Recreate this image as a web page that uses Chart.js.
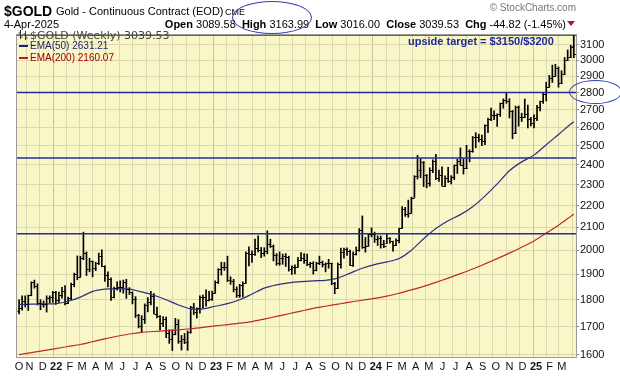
<!DOCTYPE html>
<html>
<head>
<meta charset="utf-8">
<script src="https://cdn.jsdelivr.net/npm/chart.js@4.4.1/dist/chart.umd.min.js"></script>
<style>
  body { margin: 0; background: #fff; }
  #wrap { position: relative; width: 620px; height: 376px; overflow: hidden; font-family: "Liberation Sans", Arial, sans-serif; color: #000; }
  canvas { position: absolute; left: 0; top: 0; }
  .t { position: absolute; white-space: nowrap; line-height: 1; }
  .ell { position: absolute; border: 1.5px solid #3343b0; border-radius: 50%; box-sizing: border-box; }
</style>
</head>
<body>
<div id="wrap">
  <canvas id="chart" width="620" height="376"></canvas>

  <div class="t" style="left:4px;top:4px;font-size:14px;font-weight:bold">$GOLD</div>
  <div class="t" style="left:56px;top:6px;font-size:11px">Gold - Continuous Contract (EOD)</div>
  <div class="t" style="left:225px;top:8px;font-size:9px">CME</div>
  <div class="t" style="right:44px;top:3px;font-size:10px;color:#777">© StockCharts.com</div>
  <div class="t" style="left:4px;top:19px;font-size:11px">4-Apr-2025</div>
  <div class="t" style="right:54px;top:19px;font-size:11px"><b>Open</b> 3089.58 &nbsp;<b>High</b> 3163.99 &nbsp;<b>Low</b> 3016.00 &nbsp;<b>Close</b> 3039.53 &nbsp;<b>Chg</b> -44.82 (-1.45%)</div>
  <div style="position:absolute;left:567px;top:21px;width:0;height:0;border-left:4px solid transparent;border-right:4px solid transparent;border-top:5px solid #b0103a"></div>

  <svg style="position:absolute;left:18px;top:30px" width="11" height="10">
    <path d="M2.5 0V9M0.5 3H2.5M2.5 7H4.5M7.5 1V10M5.5 4H7.5M7.5 8H9.5" stroke="#333" stroke-width="1" fill="none"/>
  </svg>
  <div class="t" style="left:30px;top:30px;font-size:11px;font-family:'DejaVu Sans';color:#444">$GOLD (Weekly) 3039.53</div>
  <div class="t" style="left:30px;top:41px;font-size:10px;color:#1c1c70">EMA(50) 2631.21</div>
  <div style="position:absolute;left:19px;top:45px;width:9px;height:2px;background:#1c1c70"></div>
  <div class="t" style="left:30px;top:53px;font-size:10px;color:#a00000">EMA(200) 2160.07</div>
  <div style="position:absolute;left:19px;top:57px;width:9px;height:2px;background:#c01818"></div>

  <div class="t" style="left:408px;top:36px;font-size:11px;font-weight:bold;color:#1d2b9f">upside target = $3150/$3200</div>

  <div class="ell" style="left:232px;top:1px;width:80px;height:33px"></div>
  <div class="ell" style="left:569px;top:80px;width:53px;height:24px"></div>
</div>

<script>
// weekly bars, Fri 15-Oct-2021 .. Fri 4-Apr-2025
const opens = [
  1757,1768,1796,1783,1818,1868,1852,1788,1784,1783,1805,1811,
  1829,1797,1818,1833, 1786,1808,1860,1900, 1889,1969,1987,1922, 1954,1924,1946,1975,1934,
  1897,1883,1811,1844, 1851,1850,1871,1840, 1828,1801,1742,1703,1727, 1781,1791,1815,1747,
  1738,1712,1728,1675,1655, 1672,1709,1648,1656, 1645,1681,1771,1754, 1768,1809,1810,1800,1804,
  1826,1869,1920,1928, 1929,1876,1874,1842, 1817,1856,1867,1989,1983, 1986,2011,2003,1990,
  1999,2025,2019,1981, 1946,1969,1977,1971,1920, 1929,1932,1960,1966, 1960,1942,1946,1918,
  1946,1952,1942,1945,1945, 1866,1845,1941,1994, 2006,1999,1937,1984, 2003,2089,2014,2019,2069,
  2072,2049,2051,2029, 2033,2053,2038,2024, 2046,2096,2186,2161,2166, 2238,2345,2374,2413,
  2349,2309,2375,2419,2334, 2348,2294,2331,2317, 2339,2398,2421,2399, 2386,2470,2472,2546,2546,
  2535,2524,2610,2646, 2668,2667,2676,2736, 2755,2749,2694,2570,2716, 2657,2658,2676,2645,
  2621,2654,2716,2748,2791, 2835,2886,2900,2953, 2857,2914,3001,3022, 3089.58
];
const highs = [
  1800,1815,1815,1818,1870,1877,1862,1800,1795,1815,1815,1832,
  1832,1830,1848,1855, 1810,1865,1905,1976, 1975,2079,1993,1966, 1955,1950,1988,2002,1935,
  1910,1886,1849,1870, 1874,1877,1880,1847, 1830,1812,1745,1740,1784, 1808,1832,1824,1772,
  1740,1736,1735,1688,1688, 1730,1725,1668,1675, 1684,1775,1786,1769, 1815,1818,1838,1832,1833,
  1874,1923,1950,1949, 1975,1890,1880,1850, 1860,1870,1993,2015,1998, 2048,2063,2012,2011,
  2085,2048,2023,1986, 1993,1984,1986,1975,1935, 1939,1970,1990,1986, 1984,1950,1952,1950,
  1975,1955,1947,1962,1946, 1868,1947,2010,2009, 2011,2001,1994,2014, 2095,2152,2055,2071,2098,
  2079,2063,2062,2043, 2071,2055,2040,2050, 2097,2195,2192,2226,2240, 2345,2449,2431,2417,
  2351,2385,2426,2454,2373, 2390,2344,2387,2345, 2399,2428,2488,2431, 2502,2478,2549,2570,2562,
  2557,2613,2651,2709, 2693,2676,2738,2762, 2801,2763,2695,2720,2721, 2679,2761,2726,2655,
  2670,2725,2749,2799,2862, 2904,2968,2974,2957, 2933,3017,3066,3097, 3163.99
];
const lows = [
  1746,1760,1772,1759,1815,1845,1780,1762,1771,1753,1788,1790,
  1782,1790,1806,1780, 1785,1800,1850,1878, 1889,1960,1895,1910, 1890,1915,1940,1931,1872,
  1850,1797,1807,1837, 1830,1825,1805,1820, 1784,1733,1695,1680,1711, 1754,1780,1746,1731,
  1688,1699,1660,1640,1615, 1670,1640,1617,1639, 1616,1676,1744,1731, 1749,1769,1775,1795,1797,
  1826,1863,1897,1916, 1871,1860,1830,1809, 1809,1811,1867,1934,1949, 1978,1993,1969,1975,
  1985,2012,1955,1937, 1937,1941,1932,1913,1900, 1902,1930,1955,1945, 1935,1928,1901,1914,
  1940,1930,1910,1925,1858, 1823,1843,1925,1967, 1978,1936,1932,1980, 1996,2008,1992,2017,2058,
  2034,2021,2009,2011, 2030,2031,1996,2020, 2032,2096,2150,2146,2165, 2238,2328,2335,2291,
  2285,2293,2360,2325,2316, 2293,2291,2311,2304, 2325,2356,2398,2353, 2380,2415,2465,2488,2520,
  2500,2505,2570,2637, 2642,2605,2661,2708, 2736,2652,2537,2568,2606, 2632,2656,2597,2608,
  2596,2637,2692,2735,2750, 2832,2861,2898,2832, 2855,2912,2999,3016, 3016.00
];
const closes = [
  1768,1796,1783,1818,1868,1852,1788,1784,1783,1805,1811,1829,
  1797,1818,1833,1786, 1808,1860,1900,1889, 1969,1987,1922,1954, 1924,1946,1975,1934,1897,
  1883,1811,1844,1851, 1850,1871,1840,1828, 1801,1742,1703,1727,1781, 1791,1815,1747,1738,
  1712,1728,1675,1655,1672, 1709,1648,1656,1645, 1681,1771,1754,1768, 1809,1810,1800,1804,1826,
  1869,1920,1928,1929, 1876,1874,1842,1817, 1856,1867,1989,1983,1986, 2011,2003,1990,1999,
  2025,2019,1981,1946, 1969,1977,1971,1920,1929, 1932,1960,1966,1960, 1942,1946,1918,1946,
  1952,1942,1945,1945,1866, 1845,1941,1994,2006, 1999,1937,1984,2003, 2089,2014,2019,2069,2072,
  2049,2051,2029,2018, 2053,2038,2024,2046, 2096,2186,2161,2166,2238, 2345,2374,2413,2349,
  2309,2375,2419,2334,2348, 2294,2331,2317,2339, 2398,2421,2399,2386, 2470,2472,2546,2546,2535,
  2524,2610,2646,2668, 2667,2676,2736,2755, 2749,2694,2570,2716,2657, 2658,2676,2645,2621,
  2654,2716,2748,2791,2835, 2886,2900,2953,2857, 2914,3001,3022,3086, 3039.53
];

// moving averages read every 4th week (plus the last one)
const emaWeeks = [0,4,8,12,16,20,24,28,32,36,40,44,48,52,56,60,64,68,72,76,80,84,88,92,
  96,100,104,108,112,116,120,124,128,132,136,140,144,148,152,156,160,164,168,172,176,180,181];
const ema50 = [1782,1783,1784,1785,1794,1810,1832,1841,1843,1841,1830,1817,1800,1780,1765,1765,
  1775,1785,1800,1822,1845,1858,1866,1871,1874,1876,1885,1905,1925,1940,1951,1965,2000,2050,
  2095,2130,2158,2195,2245,2304,2370,2415,2450,2505,2560,2618,2631];
const ema200 = [1601,1608,1615,1622,1629,1636,1646,1656,1665,1673,1679,1682,1685,1688,1692,1697,
  1702,1707,1712,1718,1727,1737,1747,1757,1767,1775,1783,1791,1798,1805,1814,1825,1838,1852,
  1868,1885,1903,1922,1943,1965,1988,2013,2040,2075,2110,2150,2160];

// drawn support / target levels
const levels = [2072, 2435, 2800, 3166];
const yTicks = [1600,1700,1800,1900,2000,2100,2200,2300,2400,2500,2600,2700,2800,2900,3000,3100];

const DAY = 86400000;
const dayZero = Date.UTC(2022, 0, 1);
const toDay = t => Math.round((t - dayZero) / DAY);
const firstBar = toDay(Date.UTC(2021, 9, 15));
const weekDays = opens.map((_, i) => firstBar + 7 * i);
const xMin = -85, xMax = 1194, yMin = 1593, yMax = 3172;

// October 2021 has no gridline in view, its label sits at the left edge
const octLabel = xMin;
const monthTicks = [octLabel];
for (let y = 2021; y <= 2025; y++) {
  for (let m = 0; m < 12; m++) {
    const d = toDay(Date.UTC(y, m, 1));
    if (d > firstBar && d < 1190) monthTicks.push(d);
  }
}
const letters = 'JFMAMJJASOND';
const dayDate = d => new Date(dayZero + d * DAY);
const isJan = d => d !== octLabel && dayDate(d).getUTCMonth() === 0;

const plotDeco = {
  id: 'plotDeco',
  beforeDraw(chart) {
    const { ctx, chartArea: a } = chart;
    ctx.save();
    ctx.fillStyle = '#f9f6c7';
    ctx.fillRect(a.left, a.top, a.width, a.height);
    ctx.restore();
  },
  afterDatasetsDraw(chart) {
    const { ctx, chartArea: a, scales: { y } } = chart;
    const meta = chart.getDatasetMeta(chart.data.datasets.length - 1);
    ctx.save();
    ctx.strokeStyle = '#000';
    ctx.lineWidth = 1;
    ctx.beginPath();
    meta.data.forEach((bar, i) => {
      const x = Math.round(bar.x) + 0.5;
      const yo = Math.round(y.getPixelForValue(opens[i])) + 0.5;
      const yc = Math.round(y.getPixelForValue(closes[i])) + 0.5;
      ctx.moveTo(x - 2, yo); ctx.lineTo(x, yo);
      ctx.moveTo(x, yc); ctx.lineTo(x + 2, yc);
    });
    ctx.stroke();
    ctx.strokeStyle = '#9a9a9a';
    ctx.strokeRect(Math.round(a.left) + 0.5, Math.round(a.top) + 0.5, Math.round(a.width), Math.round(a.height));
    ctx.restore();
  }
};

const levelSets = levels.map(v => ({
  type: 'line',
  data: [{ x: xMin, y: v }, { x: xMax, y: v }],
  borderColor: '#1e2c9c',
  borderWidth: 1.5,
  pointRadius: 0
}));

new Chart(document.getElementById('chart'), {
  type: 'bar',
  data: {
    datasets: [
      ...levelSets,
      {
        type: 'line',
        data: emaWeeks.map((k, j) => ({ x: weekDays[k], y: ema50[j] })),
        borderColor: '#2a2f86',
        borderWidth: 1.2,
        pointRadius: 0,
        tension: 0.3
      },
      {
        type: 'line',
        data: emaWeeks.map((k, j) => ({ x: weekDays[k], y: ema200[j] })),
        borderColor: '#c3272b',
        borderWidth: 1.2,
        pointRadius: 0,
        tension: 0.3
      },
      {
        type: 'bar',
        data: weekDays.map((d, i) => ({ x: d, y: [lows[i], highs[i]] })),
        backgroundColor: '#000',
        borderWidth: 0,
        barThickness: 1,
        borderSkipped: false
      }
    ]
  },
  options: {
    responsive: false,
    animation: false,
    devicePixelRatio: 1,
    layout: { padding: { left: 16, top: 34, right: 0, bottom: 0 } },
    plugins: { legend: { display: false }, tooltip: { enabled: false } },
    scales: {
      x: {
        type: 'linear',
        min: xMin,
        max: xMax,
        offset: false,
        afterBuildTicks: s => { s.ticks = monthTicks.map(v => ({ value: v })); },
        afterFit: s => { s.height = 19; },
        grid: {
          offset: false,
          drawTicks: false,
          color: c => c.tick && c.tick.value === octLabel ? 'rgba(0,0,0,0)'
            : (c.tick && isJan(c.tick.value) ? '#c9c59a' : '#dcd9ae')
        },
        border: { display: false },
        ticks: {
          autoSkip: false,
          maxRotation: 0,
          padding: 3,
          labelOffset: 3,
          color: '#111',
          font: c => ({ family: 'Liberation Sans', size: 11, weight: c.tick && isJan(c.tick.value) ? 'bold' : 'normal' }),
          callback: v => {
            if (v === octLabel) return letters[9];
            const dt = dayDate(v);
            if (dt.getUTCFullYear() === 2025 && dt.getUTCMonth() === 3) return '';
            if (dt.getUTCMonth() === 0) return String(dt.getUTCFullYear()).slice(2);
            return letters[dt.getUTCMonth()];
          }
        }
      },
      y: {
        type: 'logarithmic',
        position: 'right',
        min: yMin,
        max: yMax,
        afterBuildTicks: s => { s.ticks = yTicks.map(v => ({ value: v })); },
        afterFit: s => { s.width = 44; },
        grid: { color: '#dcd9ae', tickLength: 3, tickColor: '#888' },
        border: { display: false },
        ticks: {
          padding: 1,
          color: '#111',
          font: { family: 'Liberation Sans', size: 11 },
          callback: v => String(v)
        }
      }
    }
  },
  plugins: [plotDeco]
});
</script>
</body>
</html>
